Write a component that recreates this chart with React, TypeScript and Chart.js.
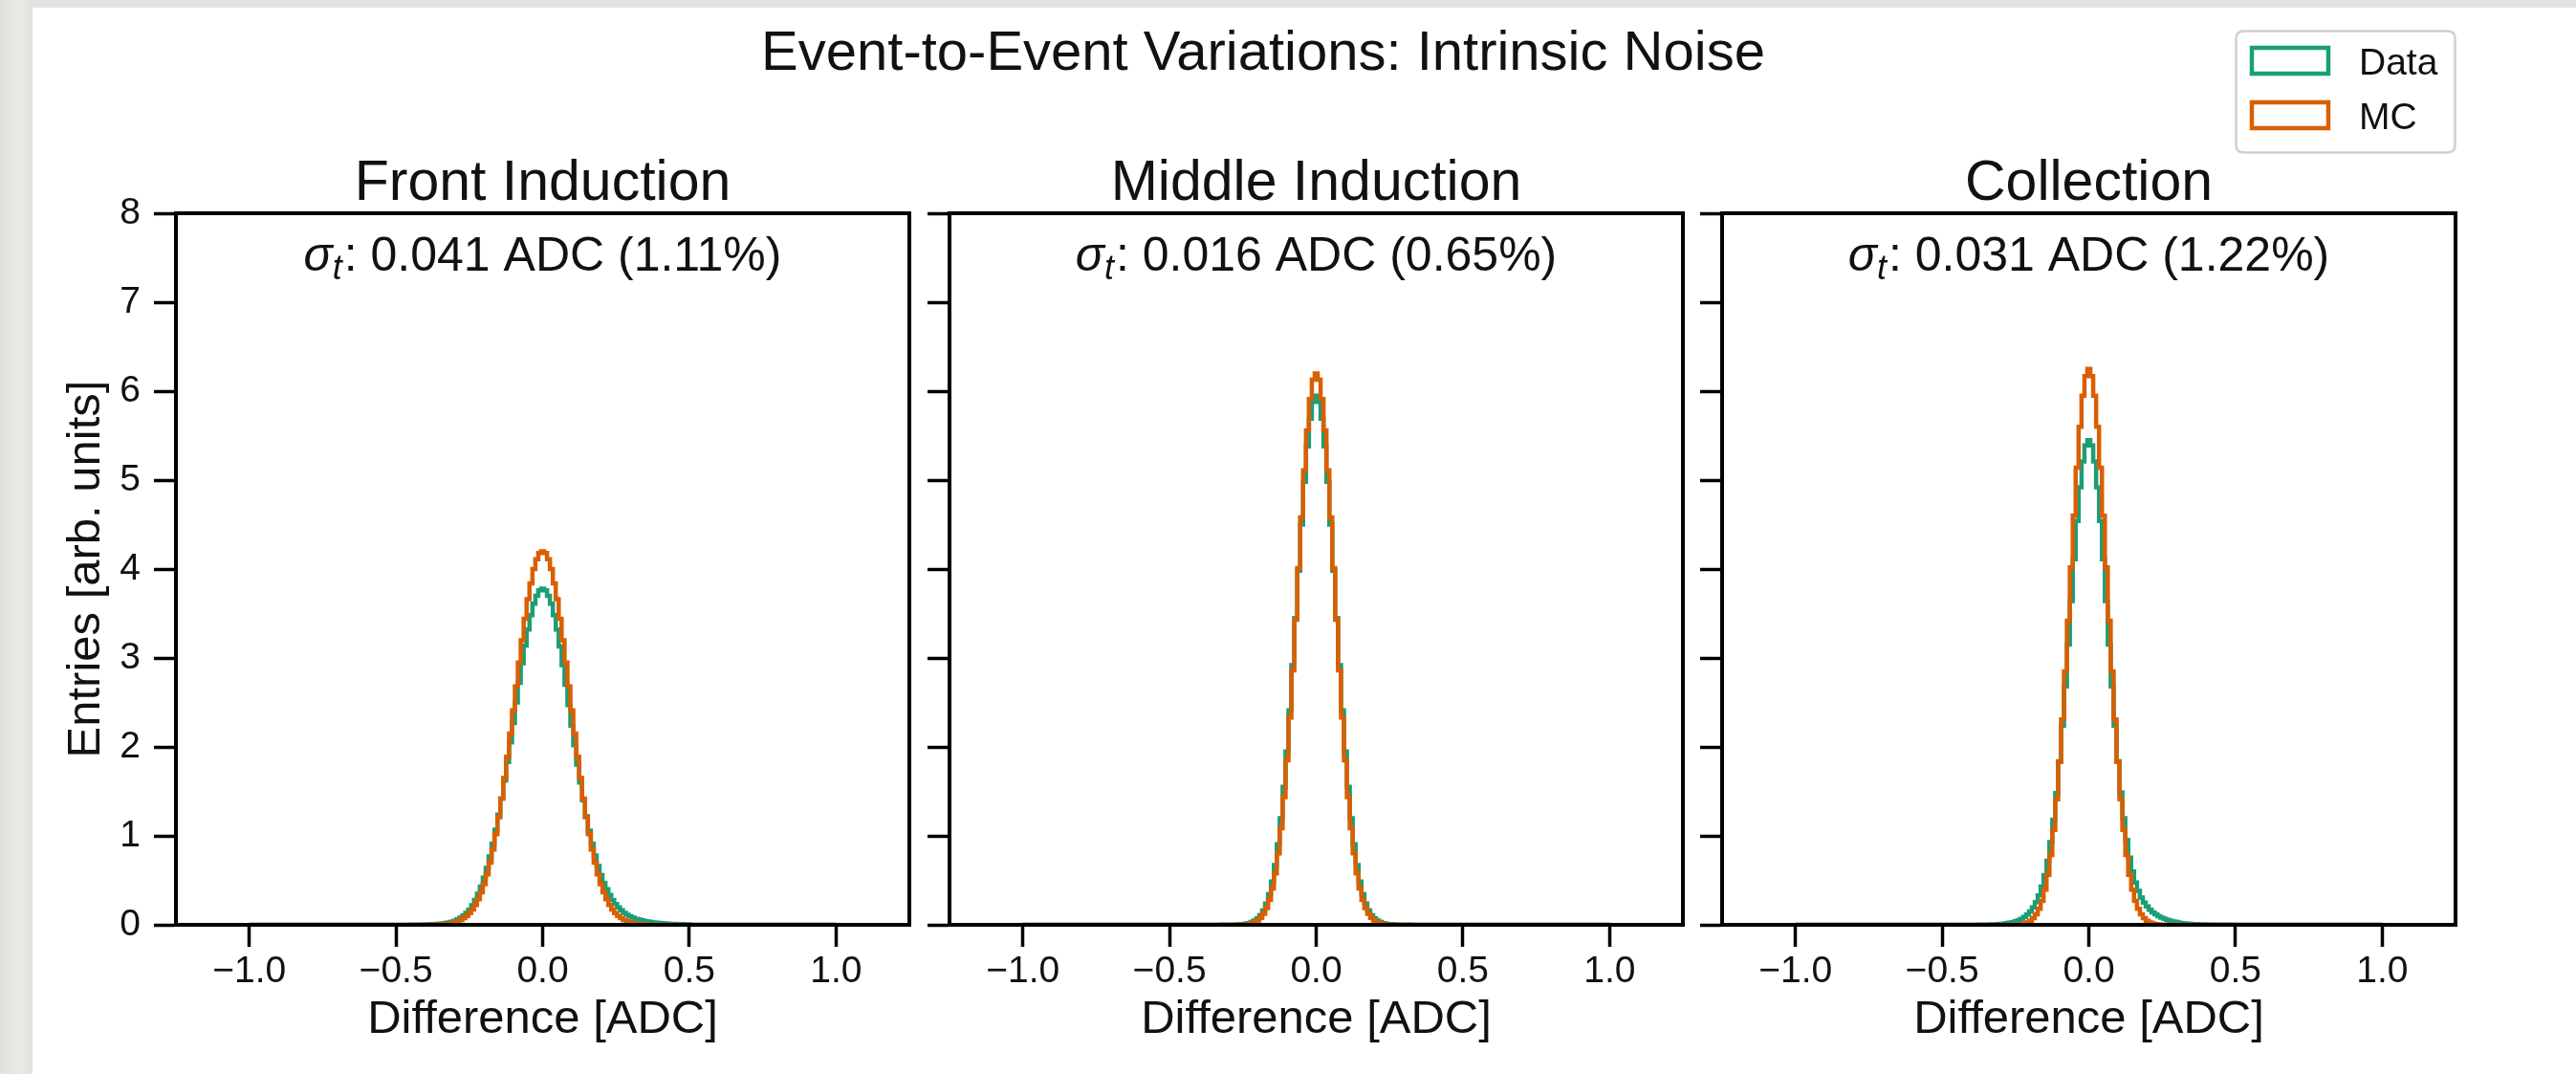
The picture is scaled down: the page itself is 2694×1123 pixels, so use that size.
import React, { useEffect, useRef } from "react";
import { Chart, registerables } from "chart.js";

Chart.register(...registerables);

// ---------------- data ----------------
const SUPTITLE = "Event-to-Event Variations: Intrinsic Noise";
const panelTitles = ["Front Induction", "Middle Induction", "Collection"];
const SIGMA_SYMBOL = "σ";
const SIGMA_SUB = "t";
const sigmaTexts = [": 0.041 ADC (1.11%)", ": 0.016 ADC (0.65%)", ": 0.031 ADC (1.22%)"];
const seriesLabels = ["Data", "MC"];
const xTickValues = [-1.0, -0.5, 0.0, 0.5, 1.0];
const xTickLabels = ["\u22121.0", "\u22120.5", "0.0", "0.5", "1.0"];
const yTickValues = [0, 1, 2, 3, 4, 5, 6, 7, 8];
const yTickLabels = ["0", "1", "2", "3", "4", "5", "6", "7", "8"];
const X_LABEL = "Difference [ADC]";
const Y_LABEL = "Entries [arb. units]";
const X_RANGE = [-1.25, 1.25];
const Y_RANGE = [0, 8];
// histogram: 201 equal bins on [-1, 1]; bin 100 is centred on 0.
// The arrays below list bins 50..150 (x from about -0.5 to +0.5); every other bin is empty.
const HIST_RANGE = [-1, 1];
const N_BINS = 201;
const WINDOW_FIRST_BIN = 50;

const frontData = [
  0, 0, 0.001, 0.001, 0.001, 0.002, 0.002, 0.003, 0.003, 0.004,
  0.005, 0.006, 0.007, 0.009, 0.011, 0.014, 0.017, 0.022, 0.028, 0.036,
  0.047, 0.062, 0.08, 0.105, 0.135, 0.17, 0.22, 0.28, 0.35, 0.43,
  0.53, 0.64, 0.77, 0.91, 1.07, 1.24, 1.42, 1.62, 1.83, 2.05,
  2.27, 2.50, 2.72, 2.94, 3.14, 3.32, 3.48, 3.61, 3.70, 3.76,
  3.78,
  3.76, 3.70, 3.61, 3.48, 3.32, 3.13, 2.92, 2.70, 2.47, 2.24,
  2.02, 1.80, 1.60, 1.40, 1.22, 1.06, 0.91, 0.78, 0.66, 0.56,
  0.47, 0.40, 0.335, 0.28, 0.235, 0.195, 0.163, 0.135, 0.113, 0.095,
  0.080, 0.068, 0.058, 0.050, 0.043, 0.037, 0.032, 0.028, 0.024, 0.021,
  0.018, 0.016, 0.014, 0.012, 0.010, 0.009, 0.008, 0.007, 0.006, 0.005,
];
const frontMC = [
  0, 0, 0, 0, 0, 0, 0, 0, 0, 0,
  0, 0.001, 0.001, 0.002, 0.003, 0.005, 0.007, 0.010, 0.014, 0.020,
  0.029, 0.040, 0.055, 0.074, 0.099, 0.132, 0.173, 0.224, 0.288, 0.365,
  0.458, 0.568, 0.698, 0.847, 1.02, 1.21, 1.42, 1.65, 1.89, 2.15,
  2.41, 2.68, 2.95, 3.20, 3.44, 3.66, 3.84, 4.00, 4.11, 4.18,
  4.20,
  4.18, 4.11, 4.00, 3.84, 3.66, 3.44, 3.20, 2.95, 2.68, 2.41,
  2.15, 1.89, 1.65, 1.42, 1.21, 1.02, 0.847, 0.698, 0.568, 0.458,
  0.365, 0.288, 0.224, 0.173, 0.132, 0.099, 0.074, 0.055, 0.040, 0.029,
  0.020, 0.014, 0.010, 0.007, 0.005, 0.003, 0.002, 0.001, 0.001, 0,
  0, 0, 0, 0, 0, 0, 0, 0, 0, 0,
];
const middleData = [
  0, 0, 0, 0, 0, 0, 0, 0, 0, 0,
  0, 0, 0, 0, 0, 0.001, 0.001, 0.001, 0.002, 0.002,
  0.003, 0.003, 0.004, 0.005, 0.007, 0.009, 0.013, 0.020, 0.031, 0.048,
  0.073, 0.107, 0.161, 0.238, 0.344, 0.486, 0.671, 0.906, 1.20, 1.55,
  1.95, 2.41, 2.92, 3.45, 3.98, 4.50, 4.98, 5.38, 5.69, 5.88,
  5.95,
  5.88, 5.69, 5.38, 4.98, 4.50, 3.98, 3.45, 2.92, 2.41, 1.95,
  1.55, 1.20, 0.906, 0.671, 0.486, 0.344, 0.238, 0.161, 0.107, 0.073,
  0.048, 0.031, 0.020, 0.013, 0.009, 0.007, 0.005, 0.004, 0.003, 0.003,
  0.002, 0.002, 0.001, 0.001, 0.001, 0, 0, 0, 0, 0,
  0, 0, 0, 0, 0, 0, 0, 0, 0, 0,
];
const middleMC = [
  0, 0, 0, 0, 0, 0, 0, 0, 0, 0,
  0, 0, 0, 0, 0, 0, 0, 0, 0, 0,
  0, 0, 0, 0.001, 0.002, 0.003, 0.006, 0.010, 0.018, 0.030,
  0.049, 0.079, 0.123, 0.188, 0.280, 0.408, 0.579, 0.803, 1.087, 1.435,
  1.85, 2.33, 2.86, 3.43, 4.01, 4.58, 5.11, 5.56, 5.91, 6.13,
  6.20,
  6.13, 5.91, 5.56, 5.11, 4.58, 4.01, 3.43, 2.86, 2.33, 1.85,
  1.435, 1.087, 0.803, 0.579, 0.408, 0.280, 0.188, 0.123, 0.079, 0.049,
  0.030, 0.018, 0.010, 0.006, 0.003, 0.002, 0.001, 0, 0, 0,
  0, 0, 0, 0, 0, 0, 0, 0, 0, 0,
  0, 0, 0, 0, 0, 0, 0, 0, 0, 0,
];
const collectionData = [
  0, 0, 0, 0, 0, 0, 0, 0, 0, 0,
  0, 0.001, 0.001, 0.002, 0.002, 0.003, 0.004, 0.005, 0.006, 0.008,
  0.011, 0.014, 0.018, 0.023, 0.030, 0.039, 0.051, 0.067, 0.088, 0.115,
  0.15, 0.195, 0.255, 0.33, 0.43, 0.56, 0.72, 0.93, 1.18, 1.48,
  1.84, 2.24, 2.68, 3.15, 3.64, 4.11, 4.54, 4.92, 5.21, 5.39,
  5.45,
  5.39, 5.21, 4.92, 4.54, 4.11, 3.64, 3.15, 2.68, 2.24, 1.84,
  1.49, 1.20, 0.954, 0.756, 0.60, 0.477, 0.382, 0.307, 0.250, 0.206,
  0.169, 0.141, 0.118, 0.098, 0.081, 0.067, 0.056, 0.046, 0.038, 0.031,
  0.025, 0.020, 0.016, 0.013, 0.010, 0.008, 0.007, 0.006, 0.005, 0.005,
  0.004, 0.004, 0.003, 0.003, 0.003, 0.002, 0.002, 0.002, 0.002, 0.001,
];
const collectionMC = [
  0, 0, 0, 0, 0, 0, 0, 0, 0, 0,
  0, 0, 0, 0, 0, 0, 0, 0, 0, 0,
  0, 0, 0, 0.001, 0.002, 0.003, 0.005, 0.009, 0.016, 0.028,
  0.046, 0.074, 0.117, 0.180, 0.269, 0.394, 0.563, 0.784, 1.066, 1.41,
  1.83, 2.31, 2.85, 3.42, 4.02, 4.60, 5.14, 5.60, 5.95, 6.17,
  6.25,
  6.17, 5.95, 5.60, 5.14, 4.60, 4.02, 3.42, 2.85, 2.31, 1.83,
  1.41, 1.066, 0.784, 0.563, 0.394, 0.269, 0.180, 0.117, 0.074, 0.046,
  0.028, 0.016, 0.009, 0.005, 0.003, 0.002, 0.001, 0, 0, 0,
  0, 0, 0, 0, 0, 0, 0, 0, 0, 0,
  0, 0, 0, 0, 0, 0, 0, 0, 0, 0,
];

const panelData = [frontData, middleData, collectionData];
const panelMC = [frontMC, middleMC, collectionMC];

// ---------------- layout / style ----------------
const W = 2694;
const H = 1123;
const FONT = '"Liberation Sans", Arial, Helvetica, sans-serif';
const TEXT_COLOR = "#111111";
const COLORS = ["#1b9e77", "#d95f02"];
const PANEL_LEFT = [184, 993, 1801];
const PANEL_RIGHT = [951, 1760, 2568];
const PLOT_TOP = 223;
const PLOT_BOTTOM = 967;
const X_AXIS_H = 129;
const Y_AXIS_W = [123, 40, 40];

function histPoints(values: number[]) {
  const lo = HIST_RANGE[0];
  const hi = HIST_RANGE[1];
  const w = (hi - lo) / N_BINS;
  const pts: { x: number; y: number }[] = [{ x: lo, y: 0 }];
  values.forEach((v, k) => pts.push({ x: lo + (WINDOW_FIRST_BIN + k) * w, y: v }));
  pts.push({ x: lo + (WINDOW_FIRST_BIN + values.length) * w, y: 0 });
  pts.push({ x: hi, y: 0 });
  return pts;
}

const framePlugin = {
  id: "frame",
  afterDatasetsDraw(chart: any) {
    const { ctx, chartArea } = chart;
    ctx.save();
    ctx.strokeStyle = "#000";
    ctx.lineWidth = 4;
    ctx.lineJoin = "miter";
    ctx.strokeRect(chartArea.left, chartArea.top, chartArea.right - chartArea.left, chartArea.bottom - chartArea.top);
    ctx.restore();
  },
};

function makeTextPlugin(i: number) {
  return {
    id: "figText" + i,
    afterDraw(chart: any) {
      const { ctx, chartArea } = chart;
      const cx = (chartArea.left + chartArea.right) / 2;
      ctx.save();
      ctx.fillStyle = TEXT_COLOR;
      ctx.textBaseline = "alphabetic";
      // panel title
      ctx.textAlign = "center";
      ctx.font = `59px ${FONT}`;
      ctx.fillText(panelTitles[i], cx, 209);
      // sigma annotation
      ctx.textAlign = "left";
      ctx.font = `italic 50px ${FONT}`;
      const wSig = ctx.measureText(SIGMA_SYMBOL).width;
      ctx.font = `italic 36px ${FONT}`;
      const wSub = ctx.measureText(SIGMA_SUB).width;
      ctx.font = `50px ${FONT}`;
      const wRest = ctx.measureText(sigmaTexts[i]).width;
      let x = cx - (wSig + wSub + 2 + wRest) / 2;
      ctx.font = `italic 50px ${FONT}`;
      ctx.fillText(SIGMA_SYMBOL, x, 283);
      x += wSig;
      ctx.font = `italic 36px ${FONT}`;
      ctx.fillText(SIGMA_SUB, x, 292);
      x += wSub + 2;
      ctx.font = `50px ${FONT}`;
      ctx.fillText(sigmaTexts[i], x, 283);

      if (i === 0) {
        ctx.textAlign = "center";
        ctx.font = `58px ${FONT}`;
        ctx.fillText(SUPTITLE, 1321, 73);
      }
      if (i === 2) {
        // legend
        const bx = 2338.5, by = 32.5, bw = 229, bh = 127, r = 8;
        ctx.beginPath();
        ctx.moveTo(bx + r, by);
        ctx.lineTo(bx + bw - r, by);
        ctx.quadraticCurveTo(bx + bw, by, bx + bw, by + r);
        ctx.lineTo(bx + bw, by + bh - r);
        ctx.quadraticCurveTo(bx + bw, by + bh, bx + bw - r, by + bh);
        ctx.lineTo(bx + r, by + bh);
        ctx.quadraticCurveTo(bx, by + bh, bx, by + bh - r);
        ctx.lineTo(bx, by + r);
        ctx.quadraticCurveTo(bx, by, bx + r, by);
        ctx.closePath();
        ctx.fillStyle = "rgba(255,255,255,0.8)";
        ctx.fill();
        ctx.strokeStyle = "#d0d0d0";
        ctx.lineWidth = 2.5;
        ctx.stroke();
        const rows = [50, 107];
        const baselines = [78, 135];
        seriesLabels.forEach((lab, k) => {
          ctx.strokeStyle = COLORS[k];
          ctx.lineWidth = 4.5;
          ctx.strokeRect(2355, rows[k], 80, 27);
          ctx.fillStyle = TEXT_COLOR;
          ctx.font = `39px ${FONT}`;
          ctx.textAlign = "left";
          ctx.fillText(lab, 2467, baselines[k]);
        });
      }
      ctx.restore();
    },
  };
}

function buildConfig(i: number): any {
  const first = i === 0;
  const tickFont = { family: FONT, size: 39 };
  const labelFont = { family: FONT, size: 49 };
  const gridOpts = {
    drawOnChartArea: false,
    drawTicks: true,
    tickLength: 23,
    tickWidth: 3.5,
    tickColor: "#000",
  };
  const lineStyle = {
    borderWidth: 4.5,
    pointRadius: 0,
    fill: false,
    stepped: "before",
    tension: 0,
    borderJoinStyle: "miter",
  };
  return {
    type: "line",
    data: {
      datasets: [
        { ...lineStyle, label: seriesLabels[0], data: histPoints(panelData[i]), borderColor: COLORS[0], order: 2 },
        { ...lineStyle, label: seriesLabels[1], data: histPoints(panelMC[i]), borderColor: COLORS[1], order: 1 },
      ],
    },
    options: {
      responsive: false,
      maintainAspectRatio: false,
      animation: false,
      devicePixelRatio: 1,
      events: [],
      layout: {
        autoPadding: false,
        padding: {
          left: PANEL_LEFT[i] - Y_AXIS_W[i],
          right: W - PANEL_RIGHT[i],
          top: PLOT_TOP,
          bottom: H - PLOT_BOTTOM - X_AXIS_H,
        },
      },
      plugins: {
        legend: { display: false },
        title: { display: false },
        tooltip: { enabled: false },
      },
      scales: {
        x: {
          type: "linear",
          min: X_RANGE[0],
          max: X_RANGE[1],
          offset: false,
          afterBuildTicks: (s: any) => {
            s.ticks = xTickValues.map((v) => ({ value: v }));
          },
          afterFit: (s: any) => {
            s.height = X_AXIS_H;
          },
          ticks: {
            autoSkip: false,
            maxRotation: 0,
            minRotation: 0,
            padding: 3,
            color: TEXT_COLOR,
            font: tickFont,
            callback: (_v: any, idx: number) => xTickLabels[idx],
          },
          grid: gridOpts,
          border: { display: true, color: "#000", width: 4 },
          title: { display: true, text: X_LABEL, color: TEXT_COLOR, font: labelFont, padding: 0 },
        },
        y: {
          type: "linear",
          min: Y_RANGE[0],
          max: Y_RANGE[1],
          afterBuildTicks: (s: any) => {
            s.ticks = yTickValues.map((v) => ({ value: v }));
          },
          afterFit: (s: any) => {
            s.width = Y_AXIS_W[i];
          },
          ticks: {
            display: first,
            autoSkip: false,
            padding: 14,
            color: TEXT_COLOR,
            font: tickFont,
            callback: (_v: any, idx: number) => yTickLabels[idx],
          },
          grid: gridOpts,
          border: { display: true, color: "#000", width: 4 },
          title: { display: first, text: Y_LABEL, color: TEXT_COLOR, font: labelFont, padding: 0 },
        },
      },
    },
    plugins: [framePlugin, makeTextPlugin(i)],
  };
}

export default function App() {
  const r0 = useRef<HTMLCanvasElement>(null);
  const r1 = useRef<HTMLCanvasElement>(null);
  const r2 = useRef<HTMLCanvasElement>(null);

  useEffect(() => {
    const refs = [r0, r1, r2];
    const charts = refs.map((r, i) => new Chart(r.current as HTMLCanvasElement, buildConfig(i)));
    return () => charts.forEach((c) => c.destroy());
  }, []);

  const canvasStyle: React.CSSProperties = {
    position: "absolute",
    left: 0,
    top: 0,
    width: W,
    height: H,
  };

  return (
    <div
      style={{
        position: "absolute",
        left: 0,
        top: 0,
        width: W,
        height: H,
        overflow: "hidden",
        background: "linear-gradient(90deg, #e2e0dd 0px, #ebe9e6 20px, #e4e2df 34px)",
      }}
    >
      <div style={{ position: "absolute", left: 34, top: 8, right: 0, bottom: 0, background: "#ffffff" }} />
      <canvas ref={r0} width={W} height={H} style={canvasStyle} />
      <canvas ref={r1} width={W} height={H} style={canvasStyle} />
      <canvas ref={r2} width={W} height={H} style={canvasStyle} />
    </div>
  );
}
